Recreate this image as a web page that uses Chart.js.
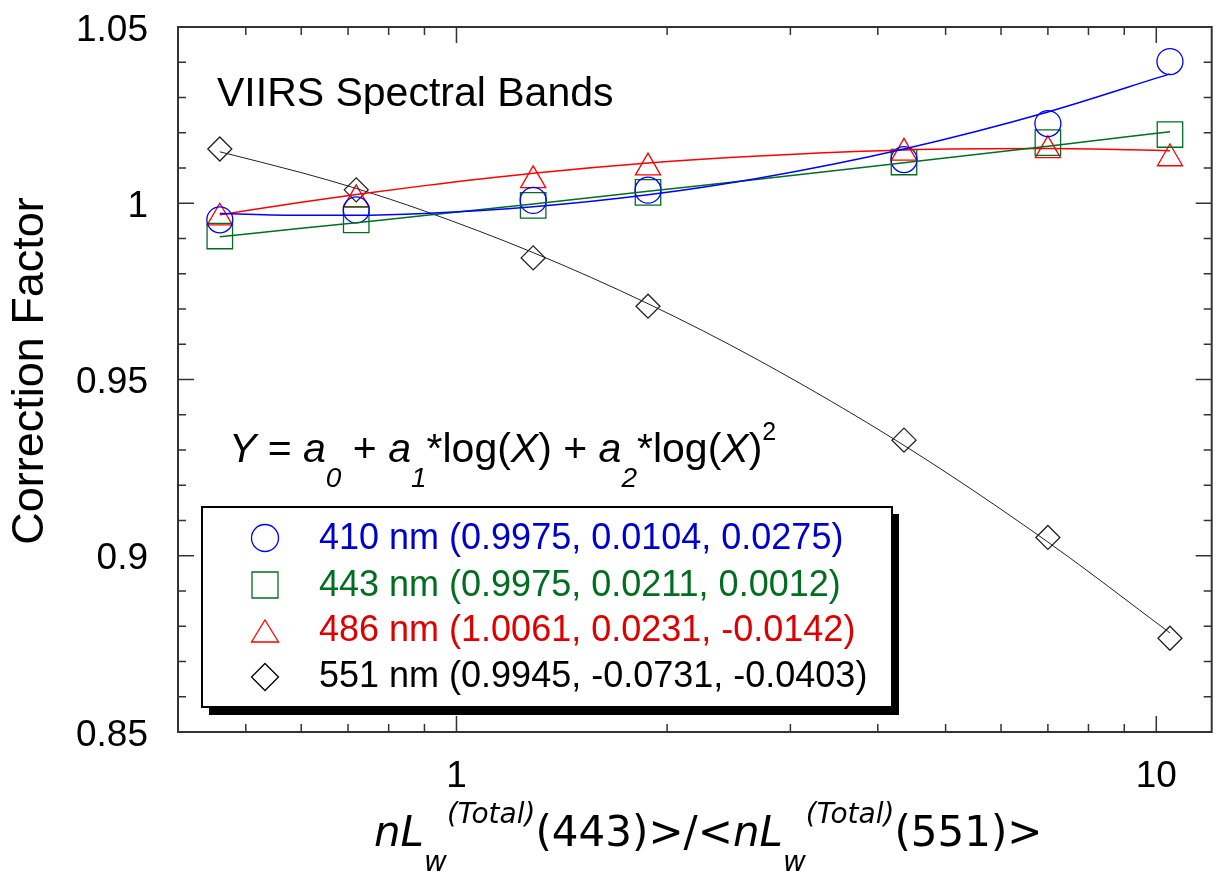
<!DOCTYPE html>
<html lang="en">
<head>
  <meta charset="UTF-8" />
  <title>VIIRS Correction Factor</title>
  <style>
    body { margin: 0; background: #ffffff; }
    #chart { display: block; }
  </style>
</head>
<body>
  <canvas id="chart" width="1231" height="875"></canvas>
  <script src="https://cdn.jsdelivr.net/npm/chart.js"></script>
  <script>
    // measured points (x = radiance ratio)
    const xPoints = [0.459, 0.719, 1.287, 1.878, 4.36, 7.0, 10.46];
    const y410 = [0.9953, 0.9981, 1.0008, 1.0037, 1.0124, 1.0226, 1.0402];
    const y443 = [0.9907, 0.9953, 0.9994, 1.0031, 1.0117, 1.0172, 1.0195];
    const y486 = [0.9959, 1.0011, 1.0065, 1.0101, 1.0143, 1.0150, 1.0127];
    const y551 = [1.0154, 1.0038, 0.9845, 0.9708, 0.9328, 0.9052, 0.8766];

    // fitted curves
    const xFit = [0.459, 0.6, 0.719, 0.9, 1.287, 1.878, 2.7, 4.36, 7.0, 10.46];
    const fit410 = [0.9971, 0.9966, 0.9966, 0.9971, 0.9990, 1.0024, 1.0071, 1.0154, 1.0259, 1.0367];
    const fit443 = [0.9905, 0.9929, 0.9945, 0.9965, 0.9998, 1.0034, 1.0068, 1.0115, 1.0162, 1.0203];
    const fit486 = [0.9967, 1.0003, 1.0025, 1.0050, 1.0085, 1.0114, 1.0134, 1.0151, 1.0155, 1.0149];
    const fit551 = [1.0146, 1.0087, 1.0042, 0.9978, 0.9860, 0.9715, 0.9555, 0.9313, 0.9039, 0.8781];

    const bandLabels = [
      "410 nm (0.9975, 0.0104, 0.0275)",
      "443 nm (0.9975, 0.0211, 0.0012)",
      "486 nm (1.0061, 0.0231, -0.0142)",
      "551 nm (0.9945, -0.0731, -0.0403)"
    ];
    const yTicks = [0.85, 0.9, 0.95, 1, 1.05];
    const yTickLabels = ["0.85", "0.9", "0.95", "1", "1.05"];
    const xTicks = [1, 10];
    const xTickLabels = ["1", "10"];
    const xMinor = [0.5, 0.6, 0.7, 0.8, 0.9, 2, 3, 4, 5, 6, 7, 8, 9];

    const BLUE = "#0000ff", GREEN = "#006e21", RED = "#ff0000", BLACK = "#000000";
    const textColors = ["#0000cc", "#006e21", "#dd0000", "#000000"];
    const SANS = "'Liberation Sans', Arial, sans-serif";
    const VERA = "'DejaVu Sans', sans-serif";

    const pts = (xs, ys) => xs.map((x, i) => ({ x: x, y: ys[i] }));

    function markerSet(ys, color, style, r) {
      return {
        data: pts(xPoints, ys), showLine: false,
        pointStyle: style, pointRadius: r, pointHoverRadius: r,
        pointBorderColor: color, pointBackgroundColor: "rgba(0,0,0,0)",
        pointBorderWidth: 1.3
      };
    }
    function fitSet(ys, color, w) {
      return {
        data: pts(xFit, ys), showLine: true, pointRadius: 0,
        borderColor: color, borderWidth: w, cubicInterpolationMode: "monotone"
      };
    }

    // helper: draw text pieces one after another
    function drawPieces(ctx, x, y, pieces) {
      pieces.forEach(p => {
        ctx.font = p.font;
        ctx.fillText(p.t, x, y + (p.dy || 0));
        x += ctx.measureText(p.t).width + (p.gap || 0);
      });
    }

    function legendMarker(ctx, kind, x, y, color) {
      ctx.strokeStyle = color;
      ctx.lineWidth = 1.3;
      ctx.beginPath();
      if (kind === "circle") {
        ctx.arc(x, y, 13.5, 0, Math.PI * 2);
      } else if (kind === "rect") {
        ctx.rect(x - 13, y - 13, 26, 26);
      } else if (kind === "triangle") {
        ctx.moveTo(x, y - 11); ctx.lineTo(x + 13.5, y + 11); ctx.lineTo(x - 13.5, y + 11); ctx.closePath();
      } else {
        ctx.moveTo(x, y - 13.5); ctx.lineTo(x + 13.5, y); ctx.lineTo(x, y + 13.5); ctx.lineTo(x - 13.5, y); ctx.closePath();
      }
      ctx.stroke();
    }

    const decor = {
      id: "decor",
      afterDraw(chart) {
        const ctx = chart.ctx;
        const { left, right, top, bottom } = chart.chartArea;
        const xs = chart.scales.x, ys = chart.scales.y;
        ctx.save();

        // frame and ticks
        ctx.strokeStyle = "#333";
        ctx.lineWidth = 2;
        ctx.strokeRect(left, top, right - left, bottom - top);
        ctx.lineWidth = 1.5;
        ctx.beginPath();
        for (let i = 1; i < 20; i++) {
          const y = ys.getPixelForValue(0.85 + i * 0.01);
          const len = i % 5 === 0 ? 16 : 8;
          ctx.moveTo(left, y); ctx.lineTo(left + len, y);
          ctx.moveTo(right, y); ctx.lineTo(right - len, y);
        }
        xMinor.forEach(v => {
          const x = xs.getPixelForValue(v);
          ctx.moveTo(x, bottom); ctx.lineTo(x, bottom - 8);
          ctx.moveTo(x, top); ctx.lineTo(x, top + 8);
        });
        xTicks.forEach(v => {
          const x = xs.getPixelForValue(v);
          ctx.moveTo(x, bottom); ctx.lineTo(x, bottom - 16);
          ctx.moveTo(x, top); ctx.lineTo(x, top + 16);
        });
        ctx.stroke();

        // tick labels
        ctx.fillStyle = "#000";
        ctx.font = "37px " + SANS;
        ctx.textAlign = "right";
        yTicks.forEach((v, i) => ctx.fillText(yTickLabels[i], 148, ys.getPixelForValue(v) + 13.5));
        ctx.textAlign = "center";
        xTicks.forEach((v, i) => ctx.fillText(xTickLabels[i], xs.getPixelForValue(v), 787));

        // y axis title
        ctx.save();
        ctx.translate(43, 371);
        ctx.rotate(-Math.PI / 2);
        ctx.font = "45px " + SANS;
        ctx.fillText("Correction Factor", 0, 0);
        ctx.restore();

        // x axis title
        ctx.textAlign = "left";
        const big = "42px " + VERA, bigI = "italic 42px " + VERA, smI = "italic 28px " + VERA;
        drawPieces(ctx, 374, 846, [
          { t: "nL", font: bigI },
          { t: "w", font: smI, dy: 25 },
          { t: "(Total)", font: smI, dy: -23 },
          { t: "(443)>/<", font: big },
          { t: "nL", font: bigI },
          { t: "w", font: smI, dy: 25 },
          { t: "(Total)", font: smI, dy: -23 },
          { t: "(551)>", font: big }
        ]);

        // annotations
        ctx.font = "41px " + SANS;
        ctx.fillText("VIIRS Spectral Bands", 217, 106);
        const f = "41px " + SANS, fi = "italic 41px " + SANS, sub = "italic 28px " + SANS, sup = "25px " + SANS;
        drawPieces(ctx, 229, 462, [
          { t: "Y", font: fi }, { t: " = ", font: f },
          { t: "a", font: fi }, { t: "0", font: sub, dy: 25 }, { t: " + ", font: f },
          { t: "a", font: fi }, { t: "1", font: sub, dy: 25 }, { t: "*log(", font: f },
          { t: "X", font: fi }, { t: ") + ", font: f },
          { t: "a", font: fi }, { t: "2", font: sub, dy: 25 }, { t: "*log(", font: f },
          { t: "X", font: fi }, { t: ")", font: f }, { t: "2", font: sup, dy: -22 }
        ]);

        // legend box with drop shadow
        ctx.fillStyle = "#000";
        ctx.fillRect(209, 514, 690, 201);
        ctx.fillStyle = "#fff";
        ctx.fillRect(202, 507, 690, 200);
        ctx.strokeStyle = "#000";
        ctx.lineWidth = 2;
        ctx.strokeRect(202, 507, 690, 200);
        const kinds = ["circle", "rect", "triangle", "diamond"];
        const mColors = [BLUE, GREEN, RED, BLACK];
        const rowY = [538, 585, 631, 677];
        const baseY = [549, 596, 641, 687];
        ctx.font = "36px " + SANS;
        bandLabels.forEach((lab, i) => {
          legendMarker(ctx, kinds[i], 265, rowY[i], mColors[i]);
          ctx.fillStyle = textColors[i];
          ctx.fillText(lab, 319, baseY[i]);
        });
        ctx.restore();
      }
    };

    new Chart(document.getElementById("chart"), {
      type: "scatter",
      data: {
        datasets: [
          fitSet(fit410, BLUE, 1.5),
          fitSet(fit443, GREEN, 1.5),
          fitSet(fit486, RED, 1.5),
          fitSet(fit551, "#222", 1),
          markerSet(y410, BLUE, "circle", 13),
          markerSet(y443, GREEN, "rect", 18),
          markerSet(y486, RED, "triangle", 14.5),
          markerSet(y551, "#222", "rectRot", 12)
        ]
      },
      options: {
        responsive: false,
        animation: false,
        layout: { padding: { left: 178, right: 2, top: 27, bottom: 143 } },
        plugins: { legend: { display: false }, tooltip: { enabled: false } },
        scales: {
          x: { type: "logarithmic", min: 0.4, max: 12, display: false },
          y: { type: "linear", min: 0.85, max: 1.05, display: false }
        }
      },
      plugins: [decor]
    });
  </script>
</body>
</html>
